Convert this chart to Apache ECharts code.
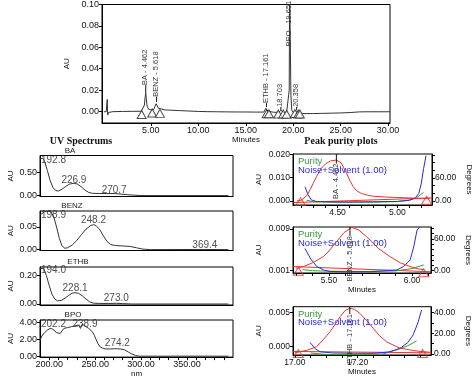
<!DOCTYPE html>
<html><head><meta charset="utf-8">
<script src="https://cdn.jsdelivr.net/npm/echarts@6/dist/echarts.min.js"></script>
<style>html,body{margin:0;padding:0;background:#fff}#c{width:474px;height:379px}</style>
</head><body><div id="c"></div>
<script>
// ================= DATA =================
// Main chromatogram
const chromTime = [0.05,0.30,0.40,0.45,0.52,0.65,1.0,2.0,3.0,4.0,4.2,4.32,4.40,4.46,4.52,4.60,4.75,5.0,5.3,5.45,5.55,5.62,5.70,5.80,6.0,6.5,7.0,8.0,9.0,10.0,11.0,11.2,12.0,13.0,14.0,15.0,16.0,16.9,17.05,17.12,17.16,17.22,17.32,17.5,18.0,18.5,18.65,18.70,18.78,19.0,19.3,19.5,19.58,19.62,19.70,19.76,19.85,20.0,20.2,20.3,20.36,20.45,20.6,21,22,23,24,25,26,27,28,29,30.2];
const chromAU = [-0.0003,-0.0002,0.0112,-0.0034,-0.0010,-0.0004,-0.0002,0.0000,0.0001,0.0002,0.0010,0.0060,0.0140,0.0169,0.0120,0.0050,0.0022,0.0016,0.0018,0.0035,0.0072,0.0088,0.0060,0.0030,0.0018,0.0014,0.0012,0.0008,0.0004,0.0000,-0.0002,-0.0004,-0.0003,-0.0004,-0.0005,-0.0005,-0.0006,-0.0006,0.0005,0.0030,0.0042,0.0025,0.0002,-0.0006,-0.0008,-0.0008,0.0004,0.0012,0.0000,-0.0010,-0.0012,-0.0010,0.0200,0.1200,0.1200,0.0150,0.0010,-0.0010,-0.0008,0.0008,0.0015,0.0000,-0.0018,-0.0020,-0.0020,-0.0018,-0.0016,-0.0014,-0.0010,-0.0004,-0.0003,-0.0003,-0.0003];
const peakNames = ['BA - 4.462','BENZ - 5.618','ETHB - 17.161','18.703','BPO - 19.651','20.358'];
const peakTime = [4.46, 5.60, 17.18, 18.70, 19.66, 20.36];
const peakTopAU = [0.0169, 0.0088, 0.0042, 0.0012, null, 0.0015];
const peakLabelAU = [0.0247, 0.0137, 0.0078, 0.0043, 0.0610, 0.0043];
const triTime = [4.03, 5.14, 5.95, 17.2, 17.44, 18.42, 18.95, 19.3, 20.18, 20.53, 20.7];
const triAU = [-0.0028, -0.0015, -0.0018, -0.0022, -0.0022, -0.0024, -0.0024, -0.0026, -0.0020, -0.0024, -0.0024];
const chromXTicks = [5, 10, 15, 20, 25, 30];
const chromYTicks = [0, 0.02, 0.04, 0.06, 0.08, 0.10];

// UV spectra
const specNames = ['BA', 'BENZ', 'ETHB', 'BPO'];
const baNm = [190,192.8,195,198,201,204,207,210,214,218,222,226.9,231,235,239,243,247,255,262,270.7,277,285,292,300,395];
const baAU = [0.80,0.82,0.75,0.55,0.33,0.18,0.11,0.10,0.14,0.20,0.25,0.27,0.25,0.19,0.12,0.07,0.05,0.045,0.045,0.045,0.035,0.02,0.01,0.0,0.0];
const benzNm = [190,192,195,198.9,202,205,208,211,214,217,220,225,230,235,240,245,248.2,251,255,259,263,267,272,280,288,295,302,310,369.4,395];
const benzAU = [0.076,0.080,0.084,0.085,0.083,0.072,0.050,0.025,0.008,0.003,0.004,0.010,0.020,0.033,0.045,0.053,0.055,0.053,0.044,0.030,0.018,0.011,0.009,0.008,0.007,0.004,0.001,0.0,0.0003,0.0];
const ethbNm = [190,192,194,197,200,203,206,209,213,217,221,225,228.1,232,236,240,244,248,255,265,273,280,290,395];
const ethbAU = [0.25,0.255,0.25,0.20,0.13,0.07,0.035,0.022,0.025,0.040,0.060,0.076,0.080,0.075,0.058,0.035,0.015,0.006,0.004,0.004,0.005,0.003,0.0,0.0];
const bpoNm = [190,192,193.5,195,196.5,198,199.5,201,202.2,204,206,208,210,212,214,216,218,220,222,224,226,228,230,232,234,236,238.9,241,243,245,247,249,251,253,255,258,262,267,271,274.2,278,282,286,290,294,298,395];
const bpoAU = [1.9,2.4,2.2,2.8,2.6,3.1,2.9,3.3,3.4,3.2,3.0,2.8,2.6,2.7,3.0,3.3,3.1,3.4,3.2,3.5,3.3,3.6,3.4,3.7,3.3,3.8,3.6,3.4,3.3,3.1,2.9,2.5,2.0,1.5,1.15,0.95,0.85,0.86,0.88,0.88,0.85,0.75,0.5,0.25,0.08,0.0,0.0];
const specLabelNm = [[192.8,226.9,270.7],[198.9,248.2,369.4],[194.0,228.1,273.0],[202.2,238.9,274.2]];
const specLabelAU = [[0.78,0.34,0.12],[0.0764,0.065,0.0104],[0.24,0.111,0.04],[3.85,3.85,1.49]];
const specYTicks = [[0,0.5],[0,0.05],[0,0.2],[0,2,4]];
const specXTicks = [200, 250, 300, 350];
const specXMinor = [200,210,220,230,240,250,260,270,280,290,300,310,320,330,340,350,360,370,380,390];

// Peak purity plots
const purNames = ['BA - 4.462', 'BENZ - 5.618', 'ETHB - 17.161'];
const pur1RedT = [4.16,4.20,4.24,4.27,4.30,4.325,4.36,4.40,4.44,4.49,4.53,4.575,4.60,4.63,4.66,4.70,4.75,4.80,4.90,5.00,5.10,5.20,5.27];
const pur1RedAU = [0.0000,0.0004,0.0022,0.0048,0.0080,0.0106,0.0138,0.0160,0.0172,0.0176,0.0164,0.0120,0.0090,0.0062,0.0044,0.0032,0.0025,0.0020,0.0017,0.0015,0.0013,0.0011,0.0010];
const pur1BlueT = [4.228,4.25,4.28,4.32,4.40,4.60,4.80,5.00,5.10,5.15,5.18,5.20,5.22,5.24];
const pur1BlueDeg = [37,18,3,-1,-2,-2.5,-2,-1,2,8,20,45,85,118];
const pur1GreenT = [4.24,4.30,4.50,4.80,5.00,5.10,5.16,5.20,5.22];
const pur1GreenDeg = [2,-2,-3.5,-3,-1.5,2,8,18,22];
const pur1LineT = [4.13, 5.29], pur1LineAU = [-0.0007, 0.0013];
const pur1TriT = [4.19, 5.245], pur1TriAU = [-0.0003, 0.0003];

const pur2RedT = [5.30,5.345,5.40,5.466,5.50,5.546,5.59,5.637,5.68,5.747,5.80,5.867,5.93,5.988,6.03,6.07];
const pur2RedAU = [0.0015,0.0018,0.0025,0.0037,0.0048,0.0066,0.0083,0.0093,0.0088,0.0069,0.0052,0.0037,0.0025,0.0018,0.0014,0.0012];
const pur2BlueT = [5.355,5.39,5.426,5.47,5.506,5.60,5.75,5.908,5.95,5.988,6.01,6.03,6.045];
const pur2BlueDeg = [42,22,8,1,-1.5,-2,-2,1.3,8,20,45,77,82];
const pur2GreenT = [5.34,5.40,5.50,5.70,5.90,6.00,6.07];
const pur2GreenDeg = [2,0,-1,-1.5,-0.5,4,11];
const pur2LineT = [5.283, 6.114], pur2LineAU = [0.0018, 0.0008];
const pur2TriT = [5.315, 6.07], pur2TriAU = [0.0009, 0.0006];

const pur3RedT = [17.0,17.04,17.069,17.09,17.112,17.13,17.144,17.16,17.175,17.19,17.207,17.23,17.25,17.27,17.293,17.32,17.335,17.37,17.399,17.43];
const pur3RedAU = [-0.0009,-0.0005,0.0,0.0010,0.0022,0.0034,0.0044,0.0053,0.00565,0.0055,0.0049,0.0038,0.0027,0.0016,0.0007,0.0001,-0.0002,-0.0005,-0.0007,-0.0008];
const pur3BlueT = [17.048,17.065,17.08,17.12,17.20,17.25,17.30,17.335,17.36,17.377,17.392,17.404];
const pur3BlueDeg = [11.3,5,2.2,1,0.7,0.7,2,5.5,11,18.4,30,42.6];
const pur3GreenT = [17.05,17.10,17.20,17.28,17.324,17.36,17.388];
const pur3GreenDeg = [1,-0.5,-0.5,0,3.9,8,12.6];
const pur3LineT = [16.994, 17.434], pur3LineAU = [-0.0007, -0.0009];
const pur3TriT = [17.011, 17.407], pur3TriAU = [-0.0010, -0.0010];

const purMarkT = [4.49, 5.626, 17.175];
const purMarkLabelAU = [0.0161, 0.00766, 0.0048];
const purXLabels = [[4.5, 5.0], [5.5, 6.0], [17.0, 17.2]];
const purXTicks = [[4.2,4.3,4.4,4.5,4.6,4.7,4.8,4.9,5.0,5.1,5.2],[5.3,5.4,5.5,5.6,5.7,5.8,5.9,6.0,6.1],[17.0,17.05,17.1,17.15,17.2,17.25,17.3,17.35,17.4]];
const purYLabels = [[0, 0.01, 0.02], [0.001, 0.009], [0, 0.005]];
const purDegLabels = [[0, 60], [0, 60], [0, 20, 40]];
const purDegTicks = [[0,20,40,60,80,100,120],[0,10,20,30,40,50,60,70,80],[0,10,20,30,40]];

// ================= LAYOUT / STYLE =================
const FONT = 'Liberation Sans, Arial, sans-serif';
const zip = (a, b) => a.map((v, i) => [v, b[i]]);
const grids = [], xAxes = [], yAxes = [], series = [], graphic = [];

function addGrid(left, top, width, height) {
  grids.push({left, top, width, height, show: true, borderColor: '#000', borderWidth: 1, backgroundColor: 'transparent', containLabel: false});
  return grids.length - 1;
}
function mkAxis(kind, gi, min, max, pos, labels, ticks, dec, fs, extra) {
  const ax = {
    type: 'value', gridIndex: gi, min, max, position: pos, scale: true,
    axisLine: {show: true, onZero: false, lineStyle: {color: '#000', width: 1}},
    axisTick: {show: true, length: 3, customValues: ticks, lineStyle: {color: '#000'}},
    axisLabel: {show: labels.length > 0, customValues: labels, formatter: v => Number(v).toFixed(dec), fontSize: fs, color: '#111', margin: 3, fontFamily: FONT, showMinLabel: true, showMaxLabel: true},
    splitLine: {show: false}
  };
  Object.assign(ax, extra || {});
  (kind === 'x' ? xAxes : yAxes).push(ax);
  return (kind === 'x' ? xAxes : yAxes).length - 1;
}

// ---- main chromatogram ----
const g0 = addGrid(102, 2, 288, 121);
const cx = mkAxis('x', g0, -0.15, 30.2, 'bottom', chromXTicks, chromXTicks, 2, 9,
  {name: 'Minutes', nameLocation: 'middle', nameGap: 12, nameTextStyle: {fontSize: 8, fontFamily: FONT, color: '#111'}});
const cy = mkAxis('y', g0, -0.0108, 0.10, 'left', chromYTicks, chromYTicks, 2, 9,
  {name: 'AU', nameLocation: 'middle', nameGap: 26, nameTextStyle: {fontSize: 8, fontFamily: FONT, color: '#111'}});
series.push({type: 'line', xAxisIndex: cx, yAxisIndex: cy, data: zip(chromTime, chromAU), showSymbol: false, symbol: 'none', clip: true, lineStyle: {color: '#333', width: 1}, silent: true, animation: false});
peakTime.forEach((t, i) => {
  if (peakTopAU[i] !== null) {
    series.push({type: 'line', xAxisIndex: cx, yAxisIndex: cy, data: [[t, peakTopAU[i]], [t, peakLabelAU[i]]], symbol: 'none', lineStyle: {color: '#111', width: 1}, animation: false, silent: true});
  }
});
series.push({type: 'scatter', xAxisIndex: cx, yAxisIndex: cy, data: zip(peakTime, peakLabelAU), symbolSize: 0.1, itemStyle: {color: 'transparent'}, animation: false, silent: true,
  label: {show: true, position: 'inside', rotate: 90, align: 'left', verticalAlign: 'middle', offset: [0, -1], fontSize: 7.5, fontFamily: 'Liberation Sans Narrow, ' + FONT, color: '#000', formatter: p => peakNames[p.dataIndex]}});
series.push({type: 'scatter', xAxisIndex: cx, yAxisIndex: cy, data: zip(triTime, triAU), symbol: 'triangle', symbolSize: [9, 8], itemStyle: {color: '#fff', borderColor: '#222', borderWidth: 1}, animation: false, silent: true, z: 5});

// ---- UV spectra ----
const specData = [[baNm, baAU], [benzNm, benzAU], [ethbNm, ethbAU], [bpoNm, bpoAU]];
const specBox = [[155.5, 41], [211, 39.5], [267, 38], [320, 39.5]];
const specYRange = [[-0.02, 0.877], [-0.002, 0.0852], [-0.007, 0.261], [-0.11, 4.3]];
const specTitleX = [70, 72, 78, 73];
const specXMin = 190, specXMax = 400;
specData.forEach((d, i) => {
  const gi = addGrid(40, specBox[i][0], 193, specBox[i][1]);
  const last = i === specData.length - 1;
  const xi = mkAxis('x', gi, specXMin, specXMax, 'bottom', last ? specXTicks : [], last ? specXMinor : [], 2, 9,
    last ? {name: 'nm', nameLocation: 'middle', nameGap: 12, nameTextStyle: {fontSize: 8, fontFamily: FONT, color: '#111'}} : {axisTick: {show: false}});
  const yi = mkAxis('y', gi, specYRange[i][0], specYRange[i][1], 'left', specYTicks[i], specYTicks[i], 2, 9,
    {name: 'AU', nameLocation: 'middle', nameGap: 25, nameTextStyle: {fontSize: 8, fontFamily: FONT, color: '#111'}});
  series.push({type: 'line', xAxisIndex: xi, yAxisIndex: yi, data: zip(d[0], d[1]), symbol: 'none', clip: true, lineStyle: {color: '#333', width: 1}, animation: false, silent: true});
  const labs = specLabelNm[i].map((nm, k) => ({value: [k === 0 ? specXMin : nm, specLabelAU[i][k]], txt: nm.toFixed(1), first: k === 0}));
  series.push({type: 'scatter', xAxisIndex: xi, yAxisIndex: yi, symbolSize: 0.1, itemStyle: {color: 'transparent'}, animation: false, silent: true,
    data: labs.map(o => ({value: o.value, label: {align: o.first ? 'left' : 'center', offset: o.first ? [1, 0] : [0, 0]}})),
    label: {show: true, position: 'inside', fontSize: 10, fontFamily: FONT, color: '#222', formatter: p => labs[p.dataIndex].txt}});
  graphic.push({type: 'text', x: specTitleX[i], y: specBox[i][0] - 5, style: {text: specNames[i], fontSize: 8, fontFamily: FONT, fill: '#222', align: 'center', verticalAlign: 'middle'}});
});

// ---- Peak purity plots ----
const purSets = [
  {red: [pur1RedT, pur1RedAU], blue: [pur1BlueT, pur1BlueDeg], green: [pur1GreenT, pur1GreenDeg], line: [pur1LineT, pur1LineAU], tri: [pur1TriT, pur1TriAU]},
  {red: [pur2RedT, pur2RedAU], blue: [pur2BlueT, pur2BlueDeg], green: [pur2GreenT, pur2GreenDeg], line: [pur2LineT, pur2LineAU], tri: [pur2TriT, pur2TriAU]},
  {red: [pur3RedT, pur3RedAU], blue: [pur3BlueT, pur3BlueDeg], green: [pur3GreenT, pur3GreenDeg], line: [pur3LineT, pur3LineAU], tri: [pur3TriT, pur3TriAU]}
];
const purBox = [[154, 51, 140], [227, 46, 138], [306.7, 48.3, 138]];
const purXRange = [[4.127, 5.29], [5.283, 6.114], [16.994, 17.434]];
const purYRange = [[-0.00174, 0.0202], [0.00056, 0.00938], [-0.00122, 0.00588]];
const purDRange = [[-10.4, 122.6], [-4.4, 82.7], [-0.97, 45.8]];
const RED = '#e8322e', BLUE = '#2b2bd8', GREEN = '#3a9a3a';
purSets.forEach((s, i) => {
  const gi = addGrid(293, purBox[i][0], purBox[i][2], purBox[i][1]);
  const xi = mkAxis('x', gi, purXRange[i][0], purXRange[i][1], 'bottom', purXLabels[i], purXTicks[i], 2, 8.5,
    i > 0 ? {name: 'Minutes', nameLocation: 'middle', nameGap: 12, nameTextStyle: {fontSize: 8, fontFamily: FONT, color: '#111'}} : {});
  const yl = mkAxis('y', gi, purYRange[i][0], purYRange[i][1], 'left', purYLabels[i], purYLabels[i], 3, 8.5,
    {name: 'AU', nameLocation: 'middle', nameGap: 30, nameTextStyle: {fontSize: 8, fontFamily: FONT, color: '#111'}});
  const yr = mkAxis('y', gi, purDRange[i][0], purDRange[i][1], 'right', purDegLabels[i], purDegTicks[i], 2, 8.5,
    {name: 'Degrees', nameLocation: 'middle', nameGap: 33, nameRotate: -90, nameTextStyle: {fontSize: 8, fontFamily: FONT, color: '#111'}});
  const base = {xAxisIndex: xi, symbol: 'none', clip: true, animation: false, silent: true};
  series.push(Object.assign({type: 'line', yAxisIndex: yl, data: zip(s.line[0], s.line[1]), lineStyle: {color: RED, width: 1}}, base));
  series.push(Object.assign({type: 'line', yAxisIndex: yr, data: zip(s.green[0], s.green[1]), lineStyle: {color: GREEN, width: 1}}, base));
  series.push(Object.assign({type: 'line', yAxisIndex: yr, data: zip(s.blue[0], s.blue[1]), lineStyle: {color: BLUE, width: 1}}, base));
  series.push(Object.assign({type: 'line', yAxisIndex: yl, data: zip(s.red[0], s.red[1]), lineStyle: {color: RED, width: 1}}, base));
  series.push({type: 'scatter', xAxisIndex: xi, yAxisIndex: yl, data: zip(s.tri[0], s.tri[1]), symbol: 'triangle', symbolSize: [10, 8], itemStyle: {color: 'rgba(255,255,255,0)', borderColor: RED, borderWidth: 1}, animation: false, silent: true, z: 6});
  series.push(Object.assign({type: 'line', yAxisIndex: yl, data: [[purMarkT[i], purYRange[i][1]], [purMarkT[i], purMarkLabelAU[i]]], lineStyle: {color: '#111', width: 1}}, base));
  series.push({type: 'scatter', xAxisIndex: xi, yAxisIndex: yl, data: [[purMarkT[i], purMarkLabelAU[i]]], symbolSize: 0.1, itemStyle: {color: 'transparent'}, animation: false, silent: true, z: 7,
    label: {show: true, position: 'inside', rotate: 90, align: 'right', verticalAlign: 'middle', fontSize: 7.5, fontFamily: 'Liberation Sans Narrow, ' + FONT, color: '#000', formatter: () => purNames[i]}});
  graphic.push({type: 'text', x: 298, y: purBox[i][0] + 7.5, z: 100, style: {text: 'Purity', fontSize: 9.5, fontFamily: FONT, fill: GREEN, align: 'left', verticalAlign: 'middle'}});
  graphic.push({type: 'text', x: 298, y: purBox[i][0] + 16, z: 100, style: {text: 'Noise+Solvent (1.00)', fontSize: 9.5, fontFamily: FONT, fill: BLUE, align: 'left', verticalAlign: 'middle'}});
});

graphic.push({type: 'text', x: 81, y: 141, style: {text: 'UV Spectrums', fontSize: 10, fontWeight: 'bold', fontFamily: 'Liberation Serif, Times New Roman, serif', fill: '#111', align: 'center', verticalAlign: 'middle'}});
graphic.push({type: 'text', x: 341, y: 141, style: {text: 'Peak purity plots', fontSize: 10, fontWeight: 'bold', fontFamily: 'Liberation Serif, Times New Roman, serif', fill: '#111', align: 'center', verticalAlign: 'middle'}});

const chart = echarts.init(document.getElementById('c'), null, {renderer: 'canvas'});
chart.setOption({animation: false, backgroundColor: '#fff', grid: grids, xAxis: xAxes, yAxis: yAxes, series, graphic});
</script></body></html>
